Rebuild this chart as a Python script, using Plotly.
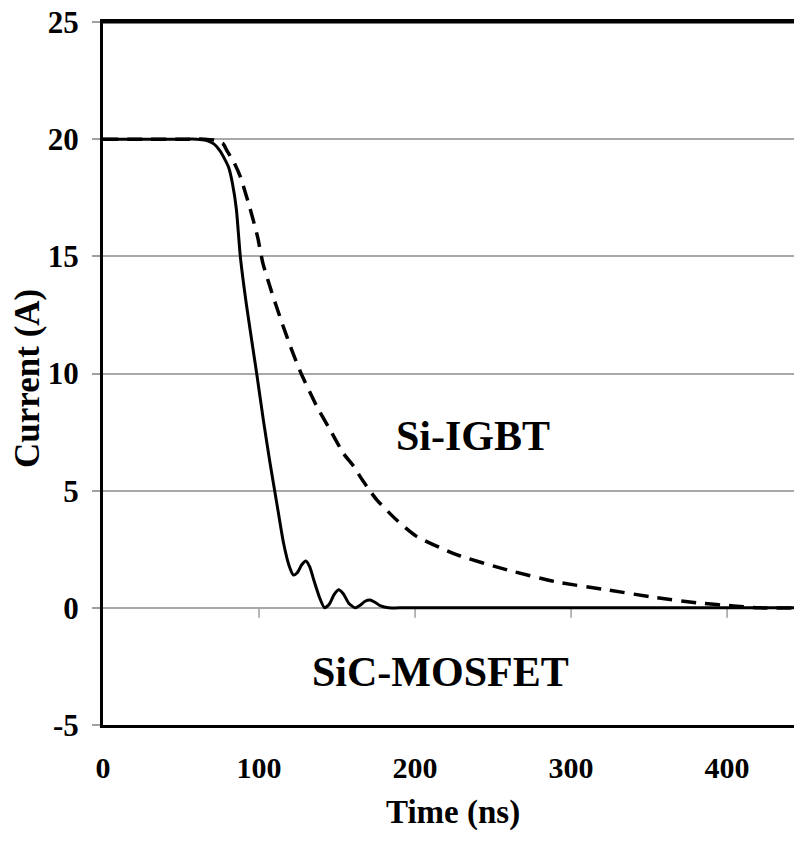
import plotly.graph_objects as go

# SiC-MOSFET (solid)
t_sic = [0, 50, 60, 66, 71, 75, 78, 80.5, 83, 85.5, 88, 92, 98.5, 102.8, 107, 111.3, 115.6,
         119.5, 122, 124.5, 127.5, 130, 132.5, 135.5, 139, 142, 145, 148, 151, 154, 157.5,
         161.5, 165, 168, 171, 174, 178, 183, 190, 250, 350, 448]
i_sic = [20, 20, 20, 19.95, 19.8, 19.5, 19.15, 18.8, 18.1, 17.0, 15.0, 12.9, 10.0, 8.0, 6.2, 4.5, 2.8,
         1.75, 1.4, 1.5, 1.85, 2.0, 1.75, 1.1, 0.4, 0.0, 0.15, 0.55, 0.77, 0.6, 0.2,
         0.0, 0.12, 0.28, 0.33, 0.25, 0.08, 0.0, 0, 0, 0, 0]

# Si-IGBT (dashed)
t_igbt = [0, 55, 65, 72, 77, 79.5, 84, 88, 94, 99, 102.5, 108, 114.5, 121, 127, 137, 145.5, 154,
          161.5, 164.7, 171, 175.6, 188, 201, 227, 259, 291, 323, 355, 383, 404, 420, 448]
i_igbt = [20, 20, 20, 19.95, 19.8, 19.5, 19.0, 18.4, 17.1, 15.85, 14.7, 13.5, 12.2, 11.0, 10.0, 8.6, 7.6, 6.6,
          5.97, 5.61, 5.0, 4.6, 3.76, 3.05, 2.26, 1.62, 1.1, 0.77, 0.43, 0.2, 0.08, 0.0, 0.0]

x_ticks = [0, 100, 200, 300, 400]
y_ticks = [-5, 0, 5, 10, 15, 20, 25]

FONT = "Liberation Serif"

fig = go.Figure()
fig.add_trace(go.Scatter(x=t_igbt, y=i_igbt, mode="lines", name="Si-IGBT",
                         line=dict(color="black", width=3.5, dash="15px,9px", shape="spline", smoothing=0.6)))
fig.add_trace(go.Scatter(x=t_sic, y=i_sic, mode="lines", name="SiC-MOSFET",
                         line=dict(color="black", width=3, shape="spline", smoothing=0.6)))

# tick marks on the zero line
for xv in x_ticks[1:]:
    fig.add_shape(type="line", x0=xv, x1=xv, y0=0, y1=-0.42, xref="x", yref="y",
                  line=dict(color="#a0a0a0", width=1.5), layer="below")

# top border of the plot frame
fig.add_shape(type="line", x0=0, x1=1, y0=1, y1=1, xref="paper", yref="paper",
              line=dict(color="black", width=3), layer="above")

fig.add_annotation(x=237, y=7.35, text="Si-IGBT", showarrow=False, xref="x", yref="y",
                   xanchor="center", yanchor="middle",
                   font=dict(family=FONT, size=42, color="black", weight="bold"))
fig.add_annotation(x=216, y=-2.73, text="SiC-MOSFET", showarrow=False, xref="x", yref="y",
                   xanchor="center", yanchor="middle",
                   font=dict(family=FONT, size=42, color="black", weight="bold"))

fig.add_annotation(x=0.5, y=-0.125, xref="paper", yref="paper", text="Time (ns)", showarrow=False,
                   xanchor="center", yanchor="middle",
                   font=dict(family=FONT, size=33, color="black", weight="bold"))
fig.add_annotation(x=-0.108, y=0.493, xref="paper", yref="paper", text="Current (A)", showarrow=False,
                   xanchor="center", yanchor="middle",
                   textangle=-90, font=dict(family=FONT, size=35, color="black", weight="bold"))

fig.update_layout(
    width=794, height=833,
    margin=dict(l=95, r=0, t=14, b=116, autoexpand=False),
    paper_bgcolor="white", plot_bgcolor="white",
    showlegend=False,
    xaxis=dict(range=[0, 448], tickvals=x_ticks, ticktext=[str(v) for v in x_ticks],
               showgrid=False, zeroline=False, showline=True, linecolor="black", linewidth=3,
               mirror=True, ticks="outside", ticklen=14, tickcolor="rgba(0,0,0,0)",
               automargin=False, ticklabeloverflow="allow",
               tickfont=dict(family=FONT, size=30, color="black", weight="bold")),
    yaxis=dict(range=[-5, 25], tickvals=y_ticks, ticktext=[str(v) for v in y_ticks],
               showgrid=True, gridcolor="#a8a8a8", gridwidth=1.5, zeroline=False,
               showline=True, linecolor="black", linewidth=3, mirror=False,
               ticks="outside", ticklen=8, tickcolor="#a0a0a0", tickwidth=1.5,
               ticklabelstandoff=7, automargin=False, ticklabeloverflow="allow",
               tickfont=dict(family=FONT, size=31, color="black", weight="bold")),
)

fig.write_html("out.html")
